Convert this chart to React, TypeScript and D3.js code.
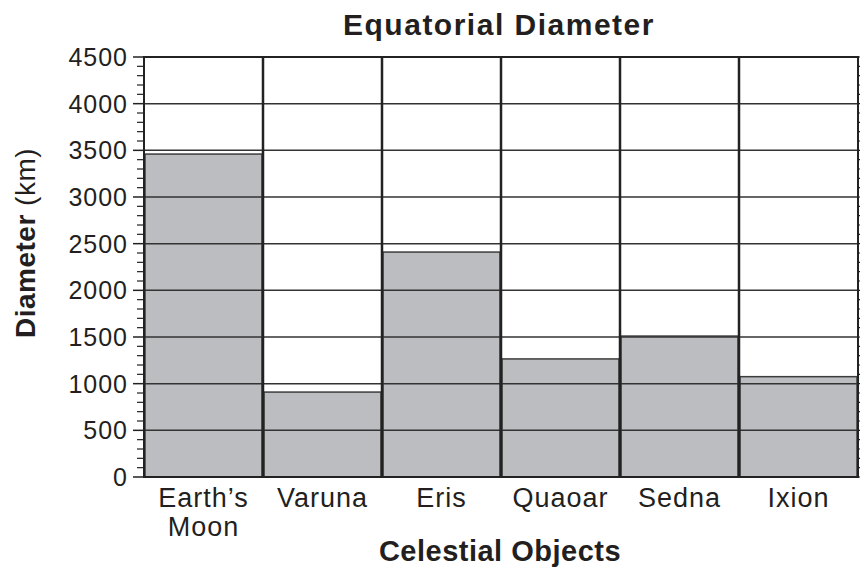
import { useEffect, useRef } from 'react';
import * as d3 from 'd3';

const categories = ['Earth\u2019s\nMoon', 'Varuna', 'Eris', 'Quaoar', 'Sedna', 'Ixion'];
const diameters = [3460, 910, 2410, 1265, 1510, 1075];
const yMax = 4500;
const yTickStep = 500;
const yMinorStep = 100;

const font = '"Liberation Sans", Arial, Helvetica, sans-serif';

const App = () => {
  const chartRef = useRef<SVGSVGElement>(null);

  useEffect(() => {
    const svg = d3.select(chartRef.current);
    svg.selectAll('*').remove();

    const width = 860;
    const height = 568;
    const margin = { top: 57, right: 2, bottom: 91, left: 144 };
    const left = margin.left;
    const right = width - margin.right;
    const top = margin.top;
    const bottom = height - margin.bottom;

    const x = d3.scaleBand<string>()
      .domain(categories)
      .range([left, right])
      .padding(0);

    const y = d3.scaleLinear()
      .domain([0, yMax])
      .range([bottom, top]);

    const majorTicks = d3.range(0, yMax + 1, yTickStep);
    const minorTicks = d3.range(0, yMax + 1, yMinorStep).filter(v => v % yTickStep !== 0);

    // bars
    svg.append('g')
      .selectAll('rect')
      .data(diameters)
      .enter()
      .append('rect')
      .attr('x', (d, i) => x(categories[i])! + 1)
      .attr('y', d => y(d))
      .attr('width', x.bandwidth() - 2)
      .attr('height', d => bottom - y(d))
      .attr('fill', '#bcbdc1')
      .attr('stroke', '#3c3c3c')
      .attr('stroke-width', 1.5);

    // horizontal grid
    svg.append('g')
      .selectAll('line')
      .data(majorTicks.filter(v => v > 0))
      .enter()
      .append('line')
      .attr('x1', left)
      .attr('x2', right)
      .attr('y1', d => y(d))
      .attr('y2', d => y(d))
      .attr('stroke', '#333')
      .attr('stroke-width', 1.5);

    // vertical separators
    svg.append('g')
      .selectAll('line')
      .data(categories.slice(1))
      .enter()
      .append('line')
      .attr('x1', d => x(d)!)
      .attr('x2', d => x(d)!)
      .attr('y1', top)
      .attr('y2', bottom)
      .attr('stroke', '#222')
      .attr('stroke-width', 2.5);

    // frame
    svg.append('rect')
      .attr('x', left)
      .attr('y', top)
      .attr('width', right - left)
      .attr('height', bottom - top)
      .attr('fill', 'none')
      .attr('stroke', '#222')
      .attr('stroke-width', 2);

    // left axis ticks
    const axisG = svg.append('g');
    axisG.selectAll('.major')
      .data(majorTicks)
      .enter()
      .append('line')
      .attr('x1', left - 11)
      .attr('x2', left)
      .attr('y1', d => y(d))
      .attr('y2', d => y(d))
      .attr('stroke', '#222')
      .attr('stroke-width', 1.5);
    axisG.selectAll('.minor')
      .data(minorTicks)
      .enter()
      .append('line')
      .attr('x1', left - 7)
      .attr('x2', left)
      .attr('y1', d => y(d))
      .attr('y2', d => y(d))
      .attr('stroke', '#222')
      .attr('stroke-width', 1.2);
    // right axis minor ticks
    axisG.selectAll('.rminor')
      .data(d3.range(0, yMax + 1, yMinorStep))
      .enter()
      .append('line')
      .attr('x1', right)
      .attr('x2', right + 3)
      .attr('y1', d => y(d))
      .attr('y2', d => y(d))
      .attr('stroke', '#222')
      .attr('stroke-width', 1.2);

    axisG.selectAll('text')
      .data(majorTicks)
      .enter()
      .append('text')
      .attr('x', left - 16)
      .attr('y', d => y(d))
      .attr('dy', '0.36em')
      .attr('text-anchor', 'end')
      .attr('font-family', font)
      .attr('font-size', 25)
      .attr('letter-spacing', 1)
      .attr('fill', '#231f20')
      .text(d => d);

    // category labels
    const labels = svg.append('g')
      .selectAll('text')
      .data(categories)
      .enter()
      .append('text')
      .attr('text-anchor', 'middle')
      .attr('font-family', font)
      .attr('font-size', 27)
      .attr('letter-spacing', 1)
      .attr('fill', '#231f20');
    labels.each(function (d) {
      const t = d3.select(this);
      d.split('\n').forEach((line, i) => {
        t.append('tspan')
          .attr('x', x(d)! + x.bandwidth() / 2)
          .attr('y', 507 + i * 29)
          .text(line);
      });
    });

    // title
    svg.append('text')
      .attr('x', 499)
      .attr('y', 35)
      .attr('text-anchor', 'middle')
      .attr('font-family', font)
      .attr('font-weight', 'bold')
      .attr('font-size', 30)
      .attr('letter-spacing', 1.5)
      .attr('fill', '#231f20')
      .text('Equatorial Diameter');

    // x axis title
    svg.append('text')
      .attr('x', 500)
      .attr('y', 561)
      .attr('text-anchor', 'middle')
      .attr('font-family', font)
      .attr('font-weight', 'bold')
      .attr('font-size', 29)
      .attr('letter-spacing', 0.5)
      .attr('fill', '#231f20')
      .text('Celestial Objects');

    // y axis title
    const yTitle = svg.append('text')
      .attr('transform', `translate(35, 338) rotate(-90)`)
      .attr('text-anchor', 'start')
      .attr('font-family', font)
      .attr('font-size', 28)
      .attr('letter-spacing', 0.5)
      .attr('fill', '#231f20');
    yTitle.append('tspan').attr('font-weight', 'bold').text('Diameter');
    yTitle.append('tspan').text(' (km)');
  }, []);

  return (
    <svg
      ref={chartRef}
      width={860}
      height={568}
      style={{ position: 'absolute', left: 0, top: 0, background: '#fff' }}
    />
  );
};

export default App;
